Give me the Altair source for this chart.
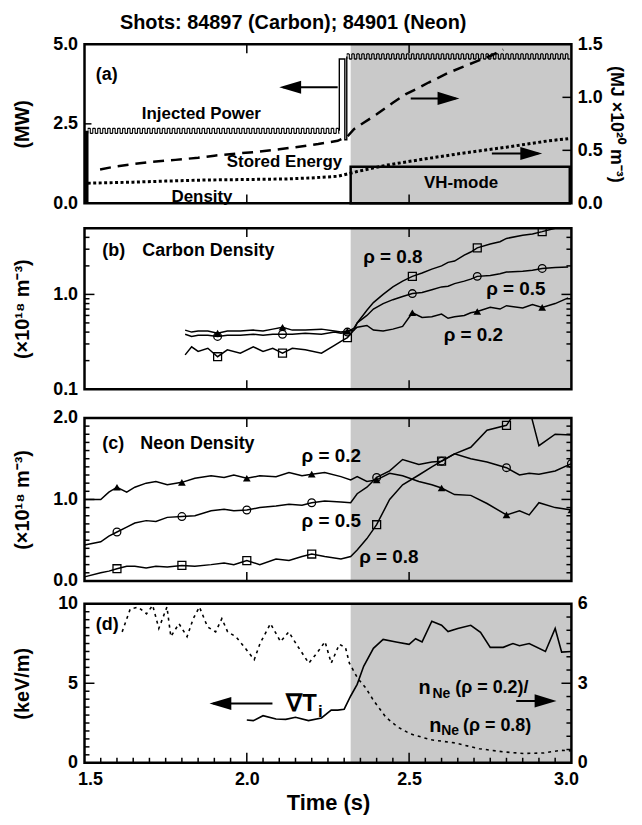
import altair as alt
import pandas as pd

FONT = "Liberation Sans"
W = 490
HA, HB, HC, HD = 160, 162, 164, 160
SHADE = "#c9c9c9"

# ---------------- data ----------------
vh_t = [2.32, 3.0]                      # VH-mode interval (s)

# (a) injected power (MW): two modulated segments
pow_seg_t0 = [1.51, 2.308]
pow_seg_t1 = [2.285, 2.995]
pow_lo = [2.20, 4.54]
pow_hi = [2.36, 4.70]
pow_rise_t = [1.507, 1.507]
pow_rise_v = [0.0, 2.28]
pow_step_t = [2.285, 2.285, 2.302, 2.302, 2.308, 2.308]
pow_step_v = [2.28, 4.54, 4.54, 2.00, 2.00, 4.62]
vh_box_top = 1.15                       # MW

# (a) stored energy (MJ) and density (1e20 m^-3), right axis
se_t = [1.548, 1.60, 1.65, 1.70, 1.78, 1.85, 1.90, 1.97, 2.03, 2.10, 2.15, 2.22, 2.28,
        2.31, 2.33, 2.36, 2.40, 2.45, 2.49, 2.53, 2.56, 2.62, 2.66, 2.70, 2.75, 2.79]
se_v = [0.32, 0.35, 0.37, 0.39, 0.41, 0.43, 0.45, 0.47, 0.485, 0.51, 0.53, 0.56, 0.59,
        0.63, 0.70, 0.76, 0.84, 0.95, 1.03, 1.09, 1.14, 1.23, 1.28, 1.33, 1.39, 1.45]
dn_t = [1.51, 1.58, 1.65, 1.75, 1.87, 2.00, 2.12, 2.20, 2.28, 2.34, 2.43, 2.55, 2.68, 2.80, 2.93, 2.99]
dn_v = [0.19, 0.195, 0.20, 0.21, 0.22, 0.225, 0.23, 0.24, 0.255, 0.30, 0.36, 0.42, 0.48, 0.53, 0.59, 0.61]

# (b) carbon density (1e18 m^-3)
cb_t = [1.81, 1.83, 1.85, 1.88, 1.91, 1.94, 1.98, 2.02, 2.05, 2.08,
        2.11, 2.14, 2.18, 2.23, 2.27, 2.29, 2.31, 2.33, 2.34, 2.37,
        2.39, 2.42, 2.45, 2.48, 2.51, 2.54, 2.57, 2.60, 2.62, 2.64,
        2.67, 2.69, 2.71, 2.75, 2.78, 2.80, 2.85, 2.88, 2.91, 2.95, 2.99]
cb08 = [0.23, 0.28, 0.25, 0.27, 0.22, 0.26, 0.24, 0.28, 0.25, 0.27,
        0.24, 0.27, 0.26, 0.24, 0.29, 0.32, 0.35, 0.42, 0.50, 0.68,
        0.82, 1.00, 1.20, 1.38, 1.55, 1.68, 1.85, 2.00, 2.18, 2.25,
        2.60, 2.80, 3.10, 3.40, 3.60, 3.90, 4.20, 4.35, 4.60, 5.00, 5.30]
cb05 = [0.38, 0.36, 0.37, 0.37, 0.36, 0.37, 0.37, 0.38, 0.37, 0.38,
        0.38, 0.38, 0.39, 0.38, 0.40, 0.39, 0.40, 0.44, 0.50, 0.60,
        0.70, 0.80, 0.88, 0.95, 1.02, 1.05, 1.12, 1.20, 1.22, 1.30,
        1.38, 1.45, 1.55, 1.58, 1.65, 1.72, 1.76, 1.80, 1.88, 1.92, 1.95]
cb02 = [0.42, 0.40, 0.41, 0.41, 0.39, 0.41, 0.41, 0.42, 0.41, 0.43,
        0.45, 0.42, 0.42, 0.43, 0.41, 0.40, 0.41, 0.42, 0.45, 0.47,
        0.42, 0.41, 0.43, 0.46, 0.64, 0.57, 0.58, 0.62, 0.56, 0.58,
        0.60, 0.64, 0.66, 0.73, 0.70, 0.76, 0.72, 0.78, 0.73, 0.80, 0.92]
cb_mk_t = [1.91, 2.11, 2.31, 2.51, 2.71, 2.91]
cb_mk08 = [0.22, 0.24, 0.35, 1.55, 3.10, 4.60]
cb_mk05 = [0.36, 0.38, 0.40, 1.02, 1.55, 1.88]
cb_mk02 = [0.39, 0.45, 0.41, 0.64, 0.66, 0.73]

# (c) neon density (1e18 m^-3)
ne_t = [1.50, 1.55, 1.575, 1.60, 1.63, 1.655, 1.69, 1.72, 1.755, 1.80,
        1.84, 1.89, 1.93, 1.96, 2.00, 2.04, 2.09, 2.13, 2.17, 2.20,
        2.24, 2.29, 2.32, 2.34, 2.37, 2.40, 2.44, 2.48, 2.53, 2.57,
        2.60, 2.64, 2.69, 2.74, 2.80, 2.84, 2.87, 2.90, 2.95, 3.00]
ne02 = [1.00, 1.00, 1.09, 1.15, 1.09, 1.15, 1.20, 1.22, 1.18, 1.21,
        1.26, 1.29, 1.27, 1.30, 1.26, 1.29, 1.28, 1.33, 1.29, 1.31,
        1.33, 1.28, 1.24, 1.28, 1.22, 1.24, 1.32, 1.29, 1.22, 1.18,
        1.14, 1.06, 1.05, 0.95, 0.81, 0.86, 0.81, 0.96, 0.90, 0.87]
ne05 = [0.44, 0.48, 0.55, 0.60, 0.66, 0.71, 0.74, 0.73, 0.78, 0.79,
        0.80, 0.86, 0.88, 0.86, 0.87, 0.90, 0.92, 0.94, 0.93, 0.96,
        0.98, 0.97, 0.96, 1.07, 1.15, 1.27, 1.35, 1.49, 1.43, 1.46,
        1.47, 1.56, 1.50, 1.46, 1.39, 1.30, 1.32, 1.31, 1.35, 1.44]
ne08 = [0.05, 0.10, 0.12, 0.15, 0.18, 0.18, 0.16, 0.18, 0.17, 0.19,
        0.18, 0.20, 0.22, 0.20, 0.25, 0.20, 0.27, 0.25, 0.30, 0.33,
        0.30, 0.27, 0.30, 0.38, 0.52, 0.69, 1.00, 1.18, 1.30, 1.40,
        1.47, 1.56, 1.64, 1.85, 1.91, 2.15, 2.12, 1.66, 1.80, 1.79]
ne_mk_t = [1.60, 1.80, 2.00, 2.20, 2.40, 2.60, 2.80, 3.00]
ne_mk02 = [1.15, 1.21, 1.26, 1.31, 1.24, 1.14, 0.81, 0.87]
ne_mk05 = [0.60, 0.79, 0.87, 0.96, 1.27, 1.47, 1.39, 1.44]
ne_mk08_t = [1.60, 1.80, 2.00, 2.20, 2.40, 2.60, 2.80]
ne_mk08 = [0.15, 0.19, 0.25, 0.33, 0.69, 1.47, 1.91]

# (d) grad Ti (keV/m) and density-peaking ratio (right axis)
gti_t = [2.00, 2.02, 2.05, 2.09, 2.12, 2.15, 2.19, 2.23, 2.26, 2.28,
         2.30, 2.32, 2.34, 2.36, 2.39, 2.42, 2.46, 2.50, 2.52, 2.54,
         2.57, 2.60, 2.62, 2.65, 2.69, 2.72, 2.75, 2.79, 2.82, 2.84,
         2.87, 2.92, 2.95, 2.97, 3.00]
gti_v = [2.69, 2.65, 2.96, 2.75, 2.73, 2.86, 2.65, 2.82, 3.31, 3.31,
         3.37, 4.20, 4.93, 6.07, 7.20, 7.76, 7.60, 7.45, 7.80, 7.60,
         8.90, 8.65, 8.25, 8.45, 8.65, 8.20, 7.26, 7.26, 7.50, 7.36,
         7.50, 7.00, 8.45, 6.96, 7.00]
rt_t = [1.616, 1.641, 1.666, 1.691, 1.71, 1.729, 1.754, 1.766, 1.791, 1.816,
        1.835, 1.854, 1.879, 1.904, 1.923, 1.941, 1.966, 1.991, 2.023, 2.041,
        2.073, 2.104, 2.129, 2.154, 2.191, 2.216, 2.241, 2.26, 2.285, 2.304,
        2.316, 2.341, 2.366, 2.391, 2.429, 2.466, 2.504, 2.566, 2.641, 2.716,
        2.791, 2.854, 2.916, 2.966, 2.998]
rt_v = [4.94, 5.81, 5.87, 5.62, 5.94, 5.07, 5.88, 4.76, 5.25, 4.76,
        5.44, 5.88, 5.13, 4.94, 5.44, 4.94, 4.76, 4.39, 3.89, 4.51,
        5.25, 4.57, 4.94, 4.45, 3.76, 4.14, 4.57, 3.76, 4.47, 4.35,
        3.76, 3.20, 2.83, 2.34, 1.71, 1.34, 1.09, 0.87, 0.75, 0.53,
        0.41, 0.35, 0.37, 0.47, 0.45]

# tick values
x_major = [2.0, 2.5]
x_minor_d = [round(1.5 + 0.05 * i, 2) for i in range(1, 30) if i not in (10, 20)]
b_minor = [0.2, 0.3, 0.4, 0.5, 0.6, 0.7, 0.8, 0.9, 2, 3, 4]
c_minor = [round(0.1 * i, 1) for i in range(1, 20) if i != 10]
d_left_minor = [0.5 * i for i in range(1, 20) if i != 10]
d_right_minor = [0.5 * i for i in range(1, 12) if i != 6]

TITLE = "Shots:  84897 (Carbon); 84901 (Neon)"

# ---------------- helpers ----------------
XS = alt.Scale(domain=[1.5, 3.0], nice=False, zero=False)


def df(t, v, **extra):
    d = {"t": list(t), "v": list(v), "i": list(range(len(t)))}
    d.update(extra)
    return pd.DataFrame(d)


def line(t, v, Xe, Ye, **kw):
    props = dict(color="black", strokeWidth=1.5, clip=True)
    props.update(kw)
    return alt.Chart(df(t, v)).mark_line(**props).encode(x=Xe, y=Ye, order="i:Q")


def markers(t, v, Xe, Ye, shape, filled, size=60):
    return alt.Chart(df(t, v)).mark_point(shape=shape, filled=filled, size=size, color="black",
                                          opacity=1, strokeWidth=1.3, clip=True).encode(x=Xe, y=Ye)


def tx(rows, Xe, Ye, size, align="center", baseline="middle", dx=0, dy=0):
    d = pd.DataFrame(rows, columns=["lab", "t", "v"])
    return alt.Chart(d).mark_text(font=FONT, fontSize=size, fontWeight="bold", color="black",
                                  align=align, baseline=baseline, dx=dx, dy=dy).encode(
        x=Xe, y=Ye, text="lab:N")


HEAD_L = "M 0 0 L 2 -0.6 L 2 0.6 Z"
HEAD_R = "M 0 0 L -2 -0.6 L -2 0.6 Z"


def arrow(tip, tail, v, Xe, Ye):
    step = 0.012 if tail > tip else -0.012
    shaft = alt.Chart(df([tip + step, tail], [v, v])).mark_line(color="black", strokeWidth=2).encode(x=Xe, y=Ye)
    head = alt.Chart(df([tip], [v])).mark_point(shape=HEAD_L if tail > tip else HEAD_R, size=484,
                                                filled=True, color="black", opacity=1,
                                                strokeWidth=0).encode(x=Xe, y=Ye)
    return [shaft, head]


def yticks(vals, Ye, length, side):
    x0, x1 = (0, length) if side == "left" else (W - length, W)
    return alt.Chart(pd.DataFrame({"v": vals})).mark_rule(color="black", strokeWidth=1.5).encode(
        y=Ye, x=alt.value(x0), x2=alt.value(x1))


def xticks(vals, Xe, length, side, h):
    y0, y1 = (0, length) if side == "top" else (h - length, h)
    return alt.Chart(pd.DataFrame({"t": vals})).mark_rule(color="black", strokeWidth=1.5).encode(
        x=Xe, y=alt.value(y0), y2=alt.value(y1))


def shade(Xe, h):
    return alt.Chart(pd.DataFrame({"t": [vh_t[0]], "t2": [vh_t[1]]})).mark_rect(color=SHADE).encode(
        x=Xe, x2=alt.X2("t2:Q"), y=alt.value(0), y2=alt.value(h))


def frame(h):
    return alt.Chart(pd.DataFrame({"a": [0]})).mark_rect(fillOpacity=0, stroke="black", strokeWidth=2.5).encode(
        x=alt.value(0), x2=alt.value(W), y=alt.value(0), y2=alt.value(h))


def left_axis(values, fmt, title, h):
    return alt.Axis(values=values, format=fmt, ticks=False, domain=False, grid=False,
                    labelFontSize=18, labelPadding=7, labelOverlap=False,
                    title=title, titleFontSize=20, titleX=-62, titleY=h / 2,
                    titleAngle=270, titleAlign="center", titleBaseline="middle")


def right_axis(values, fmt, title, h):
    return alt.Axis(orient="right", values=values, format=fmt, ticks=False, domain=False, grid=False,
                    labelFontSize=18, labelPadding=6, labelOverlap=False,
                    title=title, titleFontSize=18, titleX=44, titleY=h / 2,
                    titleAngle=90, titleAlign="center", titleBaseline="middle")


Xn = alt.X("t:Q", scale=XS, axis=None)

# ---------------- panel (a) ----------------
YA = alt.Y("v:Q", scale=alt.Scale(domain=[0, 5], nice=False), axis=left_axis([0, 2.5, 5], ".1f", "(MW)", HA))
YAr = alt.Y("v:Q", scale=alt.Scale(domain=[0, 1.5], nice=False),
            axis=right_axis([0, 0.5, 1.0, 1.5], ".1f", "(MJ ×10²⁰ m⁻³)", HA))

amp_px = (pow_hi[0] - pow_lo[0]) * HA / 5.0
seg = [0, 0, 1, 1]
seg_t = [pow_seg_t0[0], pow_seg_t1[0], pow_seg_t0[1], pow_seg_t1[1]]
top_df = df(seg_t, [pow_hi[0], pow_hi[0], pow_hi[1], pow_hi[1]], seg=seg)
bot_df = df(seg_t, [pow_lo[0], pow_lo[0], pow_lo[1], pow_lo[1]], seg=seg)
mid_df = df(seg_t, [(pow_hi[0] + pow_lo[0]) / 2] * 2 + [(pow_hi[1] + pow_lo[1]) / 2] * 2, seg=seg)

pow_top = alt.Chart(top_df).mark_line(color="black", strokeWidth=1.3, strokeDash=[2.5, 2.5]).encode(
    x=Xn, y=YA, detail="seg:N")
pow_bot = alt.Chart(bot_df).mark_line(color="black", strokeWidth=1.3, strokeDash=[2.5, 2.5],
                                      strokeDashOffset=2.5).encode(x=Xn, y=YA, detail="seg:N")
pow_mid = alt.Chart(mid_df).mark_line(color="black", strokeWidth=amp_px, strokeDash=[1.1, 1.4],
                                      strokeDashOffset=0.5).encode(x=Xn, y=YA, detail="seg:N")

vh_box = alt.Chart(pd.DataFrame({"t": [vh_t[0]], "t2": [2.995], "v": [0.0], "v2": [vh_box_top]})).mark_rect(
    fillOpacity=0, stroke="black", strokeWidth=2.5).encode(x=Xn, x2=alt.X2("t2:Q"), y=YA, y2=alt.Y2("v2:Q"))

title_mark = alt.Chart(pd.DataFrame({"a": [0]})).mark_text(
    text=TITLE, font=FONT, fontSize=20, fontWeight="bold", color="black").encode(
    x=alt.value(210), y=alt.value(-21))

left_a = [shade(Xn, HA), vh_box,
          line(pow_rise_t, pow_rise_v, Xn, YA, strokeWidth=3.5),
          pow_top, pow_bot, pow_mid,
          line(pow_step_t, pow_step_v, Xn, YA, strokeWidth=1.4),
          tx([("(a)", 1.535, 4.05)], Xn, YA, 18, align="left"),
          tx([("Injected Power", 1.86, 2.80), ("Stored Energy", 2.116, 1.30), ("VH-mode", 2.66, 0.64)],
             Xn, YA, 17),
          tx([("Density", 1.862, 0.05)], Xn, YA, 17, baseline="alphabetic"),
          *arrow(2.10, 2.28, 3.65, Xn, YA),
          yticks([2.5], YA, 7, "left"),
          xticks(x_major, Xn, 9, "top", HA), xticks(x_major, Xn, 9, "bottom", HA),
          title_mark]
right_a = [line(se_t, se_v, Xn, YAr, strokeWidth=2.5, strokeDash=[11, 7]),
           line(dn_t, dn_v, Xn, YAr, strokeWidth=3, strokeDash=[3, 2.5]),
           *arrow(2.655, 2.505, 0.99, Xn, YAr),
           *arrow(2.91, 2.755, 0.47, Xn, YAr),
           yticks([0.5, 1.0], YAr, 9, "right"),
           frame(HA)]
panel_a = alt.layer(alt.layer(*left_a), alt.layer(*right_a)).resolve_scale(y="independent").properties(
    width=W, height=HA)

# ---------------- panel (b) ----------------
YB = alt.Y("v:Q", scale=alt.Scale(type="log", domain=[0.1, 5], nice=False),
           axis=left_axis([0.1, 1.0], ".1f", "(×10¹⁸ m⁻³)", HB))
panel_b = alt.layer(
    shade(Xn, HB),
    line(cb_t, cb08, Xn, YB), line(cb_t, cb05, Xn, YB), line(cb_t, cb02, Xn, YB),
    markers(cb_mk_t, cb_mk08, Xn, YB, "square", False, 64),
    markers(cb_mk_t, cb_mk05, Xn, YB, "circle", False, 60),
    markers(cb_mk_t, cb_mk02, Xn, YB, "triangle-up", True, 60),
    tx([("(b)", 1.555, 2.9), ("Carbon Density", 1.678, 2.9)], Xn, YB, 18, align="left"),
    tx([("ρ = 0.8", 2.45, 2.47), ("ρ = 0.5", 2.829, 1.13), ("ρ = 0.2", 2.698, 0.373)], Xn, YB, 19),
    yticks([1.0], YB, 10, "left"), yticks(b_minor, YB, 5, "left"),
    yticks([1.0], YB, 10, "right"), yticks(b_minor, YB, 5, "right"),
    xticks(x_major, Xn, 9, "top", HB), xticks(x_major, Xn, 9, "bottom", HB),
    frame(HB),
).properties(width=W, height=HB)

# ---------------- panel (c) ----------------
YC = alt.Y("v:Q", scale=alt.Scale(domain=[0, 2], nice=False),
           axis=left_axis([0, 1.0, 2.0], ".1f", "(×10¹⁸ m⁻³)", HC))
panel_c = alt.layer(
    shade(Xn, HC),
    line(ne_t, ne02, Xn, YC), line(ne_t, ne05, Xn, YC), line(ne_t, ne08, Xn, YC),
    markers(ne_mk08_t, ne_mk08, Xn, YC, "square", False, 64),
    markers(ne_mk_t, ne_mk05, Xn, YC, "circle", False, 60),
    markers(ne_mk_t, ne_mk02, Xn, YC, "triangle-up", True, 60),
    tx([("(c)", 1.555, 1.68), ("Neon Density", 1.672, 1.68)], Xn, YC, 18, align="left"),
    tx([("ρ = 0.2", 2.26, 1.535), ("ρ = 0.5", 2.26, 0.73), ("ρ = 0.8", 2.4375, 0.29)], Xn, YC, 19),
    yticks([1.0], YC, 10, "left"), yticks(c_minor, YC, 5, "left"),
    yticks([1.0], YC, 10, "right"), yticks(c_minor, YC, 5, "right"),
    xticks(x_major, Xn, 9, "top", HC), xticks(x_major, Xn, 9, "bottom", HC),
    frame(HC),
).properties(width=W, height=HC)

# ---------------- panel (d) ----------------
XD = alt.X("t:Q", scale=XS, axis=alt.Axis(values=[1.5, 2.0, 2.5, 3.0], format=".1f", ticks=False,
                                          domain=False, grid=False, labelFontSize=18, labelPadding=8,
                                          labelFlush=True, labelFlushOffset=7,
                                          title="Time (s)", titleFontSize=22, titlePadding=4))
YD = alt.Y("v:Q", scale=alt.Scale(domain=[0, 10], nice=False), axis=left_axis([0, 5, 10], "d", "(keV/m)", HD))
YDr = alt.Y("v:Q", scale=alt.Scale(domain=[0, 6], nice=False), axis=right_axis([0, 3, 6], "d", None, HD))

left_d = [shade(XD, HD),
          line(gti_t, gti_v, XD, YD, strokeWidth=1.6),
          tx([("(d)", 1.535, 8.65)], XD, YD, 18, align="left"),
          tx([("∇T", 2.216, 3.69)], XD, YD, 24, align="right"),
          tx([("i", 2.216, 3.69)], XD, YD, 17, align="left", dx=1, dy=8),
          tx([("n", 2.529, 4.72), ("n", 2.562, 2.34)], XD, YD, 20, align="left"),
          tx([("Ne", 2.529, 4.72)], XD, YD, 14, align="left", dx=14, dy=6),
          tx([("Ne", 2.562, 2.34)], XD, YD, 14, align="left", dx=12, dy=6),
          tx([("(ρ = 0.2)/", 2.529, 4.72)], XD, YD, 18, align="left", dx=37),
          tx([("(ρ = 0.8)", 2.562, 2.34)], XD, YD, 18, align="left", dx=34),
          *arrow(1.885, 2.079, 3.73, XD, YD),
          *arrow(2.954, 2.83, 3.89, XD, YD),
          yticks([5], YD, 10, "left"), yticks(d_left_minor, YD, 5, "left"),
          xticks(x_major, XD, 10, "bottom", HD), xticks(x_minor_d, XD, 5, "bottom", HD)]
right_d = [line(rt_t, rt_v, XD, YDr, strokeWidth=1.6, strokeDash=[3, 4]),
           yticks([3], YDr, 10, "right"), yticks(d_right_minor, YDr, 5, "right"),
           frame(HD)]
panel_d = alt.layer(alt.layer(*left_d), alt.layer(*right_d)).resolve_scale(y="independent").properties(
    width=W, height=HD)

chart = alt.vconcat(
    alt.vconcat(panel_a, panel_b, spacing=14),
    alt.vconcat(panel_c, panel_d, spacing=5),
    spacing=11,
).properties(
    padding={"left": 5, "top": 3, "right": 10, "bottom": 2}
).configure_view(stroke=None).configure_axis(
    labelFont=FONT, titleFont=FONT, labelFontWeight="bold", titleFontWeight="bold",
    labelColor="black", titleColor="black")

chart.save("out.html", embed_options={"renderer": "svg", "actions": False})
